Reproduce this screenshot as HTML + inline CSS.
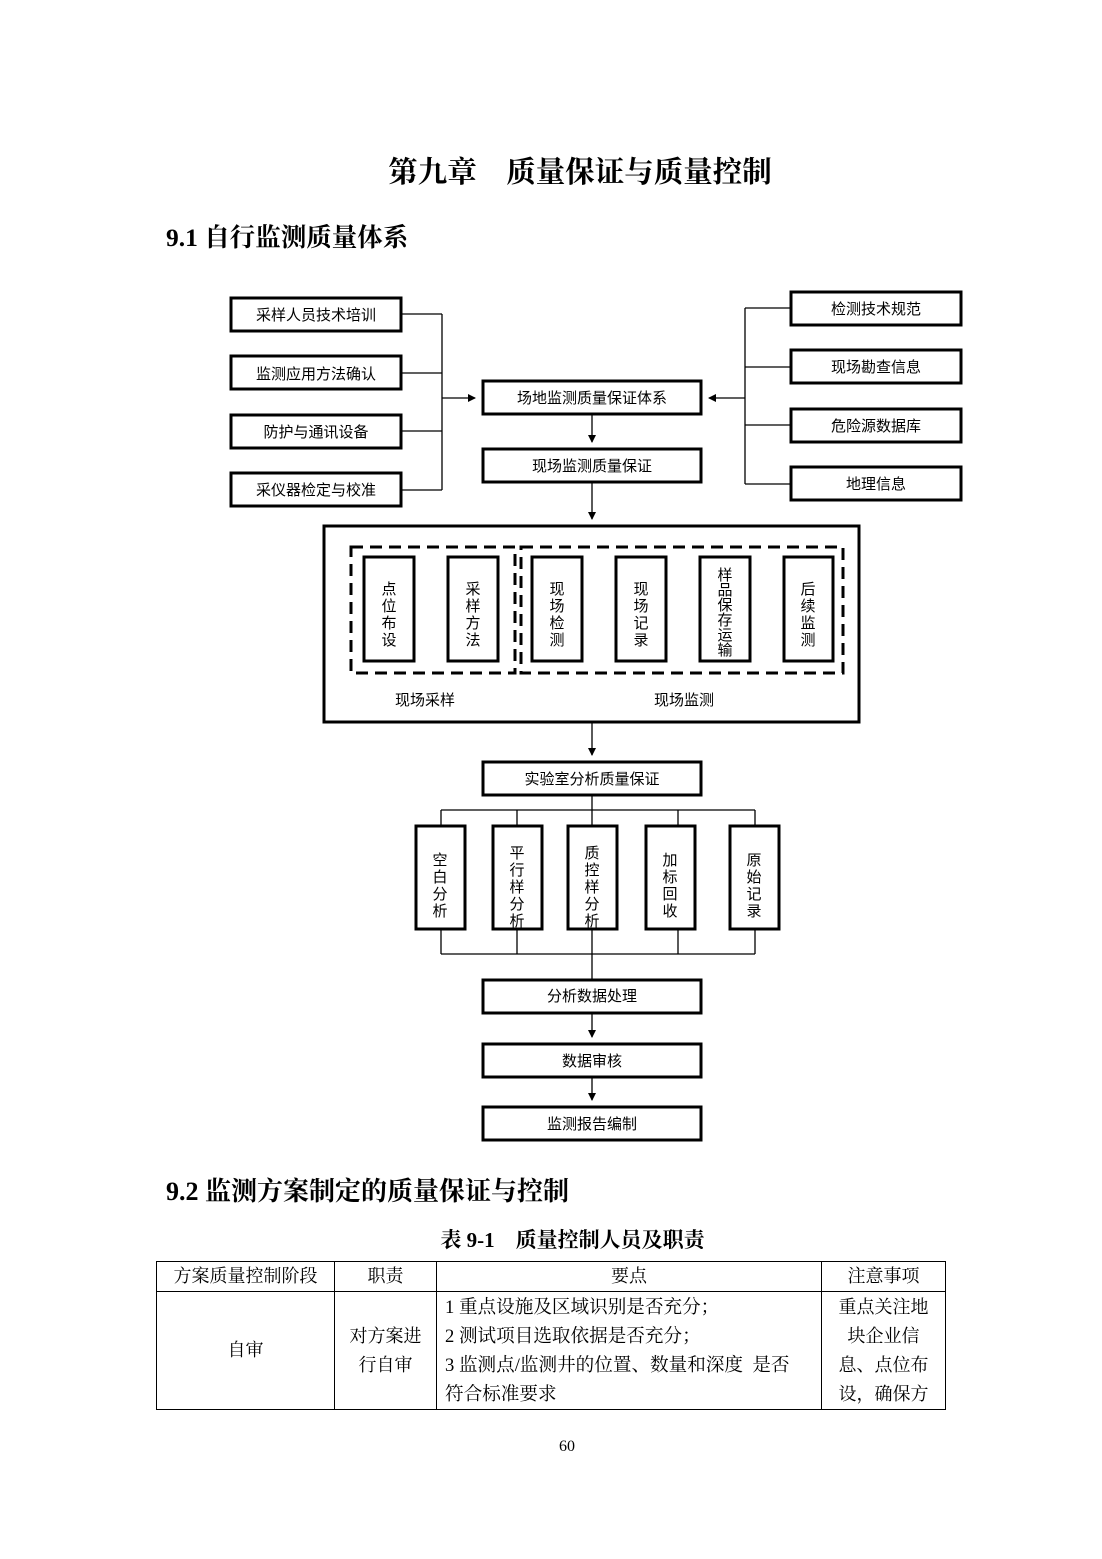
<!DOCTYPE html>
<html><head><meta charset="utf-8"><style>
body{margin:0;background:#fff;width:1102px;height:1559px;position:relative;overflow:hidden;font-family:"Liberation Serif","Noto Serif CJK SC",serif;color:#000}
.a{position:absolute;white-space:nowrap}
table{position:absolute;left:156px;top:1261px;border-collapse:collapse;font-size:18px;font-family:"Liberation Serif","Noto Serif CJK SC",serif}
td{border:1px solid #000;padding:0 8px;line-height:29px}
</style></head><body>
<div class="a" style="left:0;width:1160px;text-align:center;top:149px;font-size:29.5px;font-weight:bold">第九章　质量保证与质量控制</div>
<div class="a" style="left:166px;top:218px;font-size:25.5px;font-weight:bold">9.1 自行监测质量体系</div>
<svg width="1102" height="1160" style="position:absolute;left:0;top:0" font-family="Noto Sans CJK SC, sans-serif" font-size="15">
<defs><marker id="ar" markerWidth="8" markerHeight="8" refX="7" refY="4" orient="auto" markerUnits="userSpaceOnUse"><path d="M0,0L8,4L0,8z" fill="#000"/></marker></defs>
<g fill="none" stroke="#000" stroke-width="3">
<rect x="231" y="298" width="170" height="33"/><rect x="231" y="356" width="170" height="33"/>
<rect x="231" y="415" width="170" height="33"/><rect x="231" y="473" width="170" height="33"/>
<rect x="791" y="292" width="170" height="33"/><rect x="791" y="350" width="170" height="33"/>
<rect x="791" y="409" width="170" height="33"/><rect x="791" y="467" width="170" height="33"/>
<rect x="483" y="381" width="218" height="33"/><rect x="483" y="449" width="218" height="33"/>
<rect x="324" y="526" width="535" height="196"/>
<rect x="364" y="557" width="50" height="104"/><rect x="448" y="557" width="50" height="104"/>
<rect x="532" y="557" width="50" height="104"/><rect x="616" y="557" width="50" height="104"/>
<rect x="700" y="557" width="50" height="104"/><rect x="784" y="557" width="49" height="104"/>
<rect x="483" y="762" width="218" height="33"/>
<rect x="416" y="826" width="49" height="103"/><rect x="493" y="826" width="49" height="103"/>
<rect x="568" y="826" width="49" height="103"/><rect x="646" y="826" width="49" height="103"/>
<rect x="730" y="826" width="49" height="103"/>
<rect x="483" y="980" width="218" height="33"/><rect x="483" y="1044" width="218" height="33"/>
<rect x="483" y="1107" width="218" height="33"/>
</g>
<g fill="none" stroke="#000" stroke-width="3" stroke-dasharray="12,7">
<rect x="351" y="547" width="164" height="126"/><rect x="521" y="547" width="322" height="126"/>
</g>
<g fill="none" stroke="#000" stroke-width="1.3">
<path d="M401 314H442M401 373H442M401 431H442M401 490H442M442 314V490"/>
<path d="M442 398H475" marker-end="url(#ar)"/>
<path d="M791 308H745M791 367H745M791 425H745M791 484H745M745 308V484"/>
<path d="M745 398H709" marker-end="url(#ar)"/>
<path d="M592 414V442" marker-end="url(#ar)"/>
<path d="M592 482V519" marker-end="url(#ar)"/>
<path d="M592 722V755" marker-end="url(#ar)"/>
<path d="M592 795V826M441 810H755M441 810V826M517 810V826M678 810V826M755 810V826"/>
<path d="M441 929V954M517 929V954M592 929V980M678 929V954M755 929V954M441 954H755"/>
<path d="M592 1013V1037" marker-end="url(#ar)"/>
<path d="M592 1077V1100" marker-end="url(#ar)"/>
</g>
<g text-anchor="middle">
<text x="316" y="320">采样人员技术培训</text><text x="316" y="379">监测应用方法确认</text>
<text x="316" y="437">防护与通讯设备</text><text x="316" y="495">采仪器检定与校准</text>
<text x="876" y="314">检测技术规范</text><text x="876" y="372">现场勘查信息</text>
<text x="876" y="431">危险源数据库</text><text x="876" y="489">地理信息</text>
<text x="592" y="403">场地监测质量保证体系</text><text x="592" y="471">现场监测质量保证</text>
<text x="425" y="705">现场采样</text><text x="684" y="705">现场监测</text>
<text x="592" y="784">实验室分析质量保证</text>
<text x="592" y="1001">分析数据处理</text><text x="592" y="1066">数据审核</text><text x="592" y="1129">监测报告编制</text>
<text x="389" y="594">点</text><text x="389" y="611">位</text><text x="389" y="628">布</text><text x="389" y="645">设</text>
<text x="473" y="594">采</text><text x="473" y="611">样</text><text x="473" y="628">方</text><text x="473" y="645">法</text>
<text x="557" y="594">现</text><text x="557" y="611">场</text><text x="557" y="628">检</text><text x="557" y="645">测</text>
<text x="641" y="594">现</text><text x="641" y="611">场</text><text x="641" y="628">记</text><text x="641" y="645">录</text>
<text x="725" y="580">样</text><text x="725" y="595">品</text><text x="725" y="610">保</text><text x="725" y="625">存</text><text x="725" y="640">运</text><text x="725" y="655">输</text>
<text x="808" y="594">后</text><text x="808" y="611">续</text><text x="808" y="628">监</text><text x="808" y="645">测</text>
<text x="440" y="865">空</text><text x="440" y="882">白</text><text x="440" y="899">分</text><text x="440" y="916">析</text>
<text x="517" y="858">平</text><text x="517" y="875">行</text><text x="517" y="892">样</text><text x="517" y="909">分</text><text x="517" y="926">析</text>
<text x="592" y="858">质</text><text x="592" y="875">控</text><text x="592" y="892">样</text><text x="592" y="909">分</text><text x="592" y="926">析</text>
<text x="670" y="865">加</text><text x="670" y="882">标</text><text x="670" y="899">回</text><text x="670" y="916">收</text>
<text x="754" y="865">原</text><text x="754" y="882">始</text><text x="754" y="899">记</text><text x="754" y="916">录</text>
</g>
</svg>
<div class="a" style="left:166px;top:1171px;font-size:26px;font-weight:bold">9.2 监测方案制定的质量保证与控制</div>
<div class="a" style="left:0;width:1145px;text-align:center;top:1224px;font-size:21px;font-weight:bold">表 9-1　质量控制人员及职责</div>
<table>
<tr><td style="width:161px;text-align:center">方案质量控制阶段</td><td style="width:85px;text-align:center">职责</td><td style="width:368px;text-align:center">要点</td><td style="width:107px;text-align:center">注意事项</td></tr>
<tr><td style="text-align:center;height:117px">自审</td><td style="text-align:center">对方案进<br>行自审</td><td style="font-size:18.6px">1 重点设施及区域识别是否充分；<br>2 测试项目选取依据是否充分；<br>3 监测点/监测井的位置、数量和深度&nbsp; 是否<br>符合标准要求</td><td style="text-align:center">重点关注地<br>块企业信<br>息、点位布<br>设，确保方</td></tr>
</table>
<div class="a" style="left:559px;top:1438px;font-size:16px">60</div>
</body></html>
